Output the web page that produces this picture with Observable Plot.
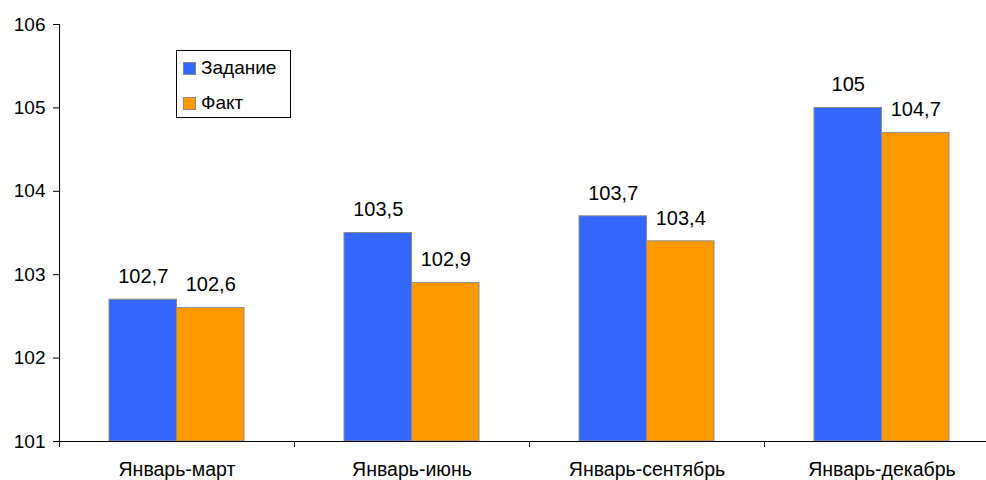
<!DOCTYPE html>
<html><head><meta charset="utf-8">
<script src="https://cdn.jsdelivr.net/npm/d3@7"></script>
<script src="https://cdn.jsdelivr.net/npm/@observablehq/plot@0.6"></script>
<style>
body{margin:0;background:#fff;font-family:"Liberation Sans",Arial,sans-serif;}
#wrap{position:relative;width:986px;height:480px;}
#legend{position:absolute;left:176px;top:50px;width:113px;height:66px;border:1px solid #000;background:#fff;font-size:19px;}
.item{position:absolute;left:6px;height:20px;display:flex;align-items:center;}
.sw{width:11px;height:11px;border:1px solid #888;margin-right:5px;}
</style></head><body>
<div id="wrap"></div>
<script>
const categories = ["Январь-март","Январь-июнь","Январь-сентябрь","Январь-декабрь"];
const seriesNames = ["Задание","Факт"];
const zadanie = [102.7, 103.5, 103.7, 105];
const fakt = [102.6, 102.9, 103.4, 104.7];
const yTicks = [101,102,103,104,105,106];
const colors = ["#3366FF","#FF9900"];

const data = [];
categories.forEach((c,i)=>{
  data.push({cat:c, series:seriesNames[0], value:zadanie[i]});
  data.push({cat:c, series:seriesNames[1], value:fakt[i]});
});
const fmt = v => String(v).replace(".", ",");
const zData = data.filter(d=>d.series===seriesNames[0]);
const fData = data.filter(d=>d.series===seriesNames[1]);

const chart = Plot.plot({
  width: 986, height: 480,
  marginTop: 24, marginBottom: 39, marginLeft: 59, marginRight: 0,
  style: {fontFamily: '"Liberation Sans", Arial, sans-serif', fontSize: "18px", color: "#000", background: "#fff", overflow: "hidden"},
  x: {type: "band", domain: categories, range: [59, 999], padding: 0, axis: null, label: null},
  y: {domain: [101, 106], axis: null, label: null},
  marks: [
    Plot.barY(zData, {x: "cat", y1: 101, y2: "value", fill: colors[0], stroke: "#8c8c8c", strokeWidth: 1, insetLeft: 50, insetRight: 117.5}),
    Plot.barY(fData, {x: "cat", y1: 101, y2: "value", fill: colors[1], stroke: "#8c8c8c", strokeWidth: 1, insetLeft: 117.5, insetRight: 50}),
    Plot.text(zData, {x: "cat", y: "value", text: d => fmt(d.value), dx: -33.75, dy: -23, fontSize: 20, fill: "#000"}),
    Plot.text(fData, {x: "cat", y: "value", text: d => fmt(d.value), dx: 33.75, dy: -23, fontSize: 20, fill: "#000"}),
    Plot.axisY({ticks: yTicks, tickSize: 6, tickPadding: 8, fontSize: 19, tickFormat: d => String(d), stroke: "#000", label: null}),
    Plot.axisX({ticks: categories, tickSize: 6, text: null, dx: -117.5, stroke: "#000", label: null}),
    Plot.axisX({ticks: categories, tickSize: 0, tickPadding: 21, fontSize: 19.5, label: null}),
    Plot.ruleY([101], {stroke: "#000", strokeWidth: 1}),
    Plot.frame({anchor: "left", stroke: "#000"})
  ]
});
const wrap = document.getElementById("wrap");
wrap.appendChild(chart);
const legend = document.createElement("div");
legend.id = "legend";
seriesNames.forEach((n,i)=>{
  const it = document.createElement("div");
  it.className = "item";
  it.style.top = (i===0 ? 7 : 42) + "px";
  const sw = document.createElement("div");
  sw.className = "sw"; sw.style.background = colors[i];
  const t = document.createElement("span"); t.textContent = n;
  it.appendChild(sw); it.appendChild(t);
  legend.appendChild(it);
});
wrap.appendChild(legend);
</script>
</body></html>
